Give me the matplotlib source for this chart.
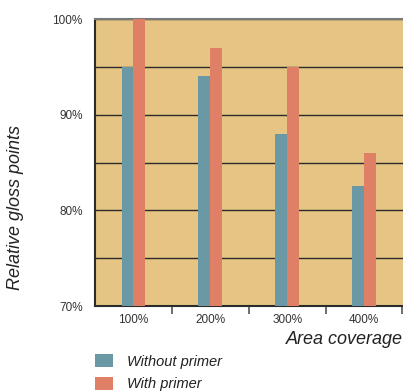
import matplotlib
matplotlib.use("Agg")
import matplotlib.pyplot as plt
import numpy as np

plt.rcParams['font.family'] = ['Liberation Sans', 'DejaVu Sans']

# data
coverage = ['100%', '200%', '300%', '400%']
without_primer = [95, 94, 88, 82.5]
with_primer = [100, 97, 95, 86]
y_ticks = [70, 80, 90, 100]

bg = '#E6C584'
c_without = '#6B98A5'
c_with = '#DF7F66'

fig = plt.figure(figsize=(4.03, 3.92), dpi=100)
W, H = 403, 392
ax = fig.add_axes([95 / W, 1 - 306 / H, (402.5 - 95) / W, (306 - 19) / H])
ax.set_facecolor(bg)

x = np.arange(len(coverage))
bw = 0.155
ax.bar(x - bw / 2, without_primer, bw, color=c_without, zorder=3, label='Without primer')
ax.bar(x + bw / 2, with_primer, bw, color=c_with, zorder=3, label='With primer')

ax.set_ylim(70, 100)
ax.set_xlim(-0.5, 3.5)
ax.set_yticks(y_ticks)
ax.set_yticklabels([f'{v}%' for v in y_ticks], fontsize=8.5, color='#333333')
ax.set_yticks(np.arange(70, 100.1, 5), minor=True)
ax.grid(True, which='both', axis='y', color='#2b2b2b', linewidth=1.0, zorder=1)
ax.tick_params(axis='y', which='both', length=0, pad=9)

ax.set_xticks(x)
ax.set_xticklabels(coverage, fontsize=8.5, color='#333333')
ax.set_xticks(list(x[:-1] + 0.5) + [3.495], minor=True)
ax.tick_params(axis='x', which='major', length=0, pad=6)
ax.tick_params(axis='x', which='minor', length=6, width=1.2, color='#555555', direction='out')

for s in ['left', 'bottom']:
    ax.spines[s].set_color('#2b2b2b')
    ax.spines[s].set_linewidth(1.5)
ax.spines['top'].set_color('#7a7a7a')
ax.spines['top'].set_linewidth(1.5)
ax.spines['right'].set_visible(False)

fig.text(403 / W, 1 - 340 / H, 'Area coverage', fontsize=13, style='italic',
         ha='right', va='center', color='#222222')
fig.text(16 / W, 1 - 207 / H, 'Relative gloss points', fontsize=13, style='italic',
         rotation=90, ha='center', va='center', color='#222222')

handles, labels = ax.get_legend_handles_labels()
fig.legend(handles, labels, loc='upper left', bbox_to_anchor=(85 / W, 1 - 344 / H),
           frameon=False, prop={'size': 10.5, 'style': 'italic'}, handlelength=1.25,
           handleheight=1.0, handletextpad=0.95, labelspacing=0.55, labelcolor='#222222',
           borderpad=0.2)

fig.savefig('out.png', dpi=100)
